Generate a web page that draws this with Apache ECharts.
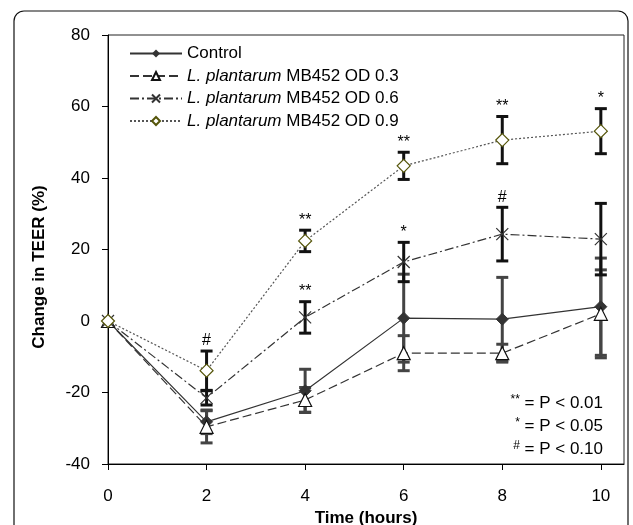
<!DOCTYPE html>
<html>
<head>
<meta charset="UTF-8">
<title>Change in TEER</title>
<script src="https://cdn.jsdelivr.net/npm/echarts@6/dist/echarts.min.js"></script>
<style>
  html, body { margin: 0; padding: 0; background: #fff; }
  #main { width: 633px; height: 525px; }
</style>
</head>
<body>
<div id="main"></div>
<script>
// data
var hours = [0, 2, 4, 6, 8, 10];
var xTicks = [0, 2, 4, 6, 8, 10];

var control    = [0, -28.2, -19.5, 0.8, 0.5, 4.0];
var controlErr = [0, 3.3, 6.0, 12.3, 11.7, 13.6];

var od03    = [0, -29.6, -22.1, -9.0, -9.0, 2.0];
var od03Err = [0, 4.5, 3.5, 4.9, 2.5, 12.3];

var od06    = [0, -21.5, 1.0, 16.5, 24.3, 22.9];
var od06Err = [0, 2.0, 4.4, 5.5, 7.5, 10.0];
var od06Sig = ['', '', '**', '*', '#', ''];

var od09    = [0, -13.9, 22.4, 43.4, 50.6, 53.1];
var od09Err = [0, 5.5, 3.0, 3.8, 6.6, 6.3];
var od09Sig = ['', '#', '**', '**', '**', '*'];

var names = ['Control', 'L. plantarum MB452 OD 0.3', 'L. plantarum MB452 OD 0.6', 'L. plantarum MB452 OD 0.9'];
var pNotes = [['**', 'P < 0.01'], ['*', 'P < 0.05'], ['#', 'P < 0.10']];

var FONT = '"Liberation Sans", Arial, sans-serif';

function pairs(ys) {
  return hours.map(function (h, i) { return [h, ys[i]]; });
}
function bars(ys, errs) {
  return hours.map(function (h, i) { return [h, ys[i] - errs[i], ys[i] + errs[i]]; });
}

// error bar + significance mark, positioned through the axes
function errorRender(color, sig) {
  return function (params, api) {
    var x = api.value(0), lo = api.value(1), hi = api.value(2);
    if (hi === lo) return null;
    var top = api.coord([x, hi]);
    var bot = api.coord([x, lo]);
    var w = 6;
    var st = { stroke: color, lineWidth: 3 };
    var kids = [
      { type: 'line', shape: { x1: top[0], y1: top[1], x2: bot[0], y2: bot[1] }, style: st },
      { type: 'line', shape: { x1: top[0] - w, y1: top[1], x2: top[0] + w, y2: top[1] }, style: st },
      { type: 'line', shape: { x1: bot[0] - w, y1: bot[1], x2: bot[0] + w, y2: bot[1] }, style: st }
    ];
    var s = sig ? sig[params.dataIndex] : '';
    if (s) {
      kids.push({
        type: 'text', x: top[0], y: top[1] - 2,
        style: { text: s, textAlign: 'center', textVerticalAlign: 'bottom',
                 font: '16px ' + FONT, fill: '#000' }
      });
    }
    return { type: 'group', children: kids };
  };
}

var chart = echarts.init(document.getElementById('main'));

var crossPath = 'path://M0,0L10,10M10,0L0,10';

chart.setOption({
  animation: false,
  backgroundColor: '#fff',
  textStyle: { fontFamily: FONT },
  grid: { left: 108, right: 9, top: 35, bottom: 61, show: true, borderColor: '#222', borderWidth: 1,
          containLabel: false, outerBoundsMode: 'none' },
  legend: {
    data: names,
    orient: 'vertical',
    left: 124,
    top: 40,
    itemWidth: 52,
    itemHeight: 10,
    itemGap: 5.5,
    textStyle: {
      fontSize: 17, color: '#000', fontFamily: FONT,
      rich: { i: { fontStyle: 'italic', fontSize: 17, color: '#000', fontFamily: FONT } }
    },
    formatter: function (n) { return n.replace('L. plantarum', '{i|L. plantarum}'); }
  },
  xAxis: {
    type: 'value',
    min: 0,
    max: 10.47,
    name: 'Time (hours)',
    nameLocation: 'middle',
    nameGap: 46,
    nameTextStyle: { fontSize: 17, fontWeight: 'bold', color: '#000' },
    axisLine: { onZero: false, lineStyle: { color: '#000', width: 1 } },
    axisTick: { length: 6, customValues: xTicks, lineStyle: { color: '#000' } },
    axisLabel: { customValues: xTicks, fontSize: 17, color: '#000', margin: 24 },
    splitLine: { show: false }
  },
  yAxis: {
    type: 'value',
    min: -40,
    max: 80,
    interval: 20,
    axisLine: { show: true, onZero: false, lineStyle: { color: '#000', width: 1 } },
    axisTick: { show: true, length: 6, lineStyle: { color: '#000' } },
    axisLabel: { fontSize: 17, color: '#000', margin: 18 },
    splitLine: { show: false }
  },
  graphic: [
    { type: 'rect', shape: { x: 14, y: 11, width: 614, height: 530, r: 10 },
      style: { fill: 'none', stroke: '#111', lineWidth: 1.2 }, silent: true, z: 100 },
    { type: 'text', x: 39, y: 267, rotation: Math.PI / 2,
      style: { text: 'Change in TEER (%)', textAlign: 'center', textVerticalAlign: 'middle',
               font: 'bold 17px ' + FONT, fill: '#000' } },
    { type: 'group', right: 30, top: 394, children: pNotes.map(function (p, i) {
      return {
        type: 'text', x: 0, y: i * 23,
        style: {
          text: '{s|' + p[0] + '}{m| = ' + p[1] + '}',
          textAlign: 'right',
          rich: {
            s: { fontSize: 12, fontFamily: FONT, fill: '#000', padding: [0, 0, 7, 0] },
            m: { fontSize: 17, fontFamily: FONT, fill: '#000' }
          }
        }
      };
    }) }
  ],
  series: [
    {
      name: names[0], type: 'line', data: pairs(control), z: 4,
      symbol: 'diamond', symbolSize: 12,
      itemStyle: { color: '#333', borderColor: '#333' },
      lineStyle: { color: '#333', width: 1.2, type: 'solid' }
    },
    {
      name: names[1], type: 'line', data: pairs(od03), z: 4,
      symbol: 'triangle', symbolSize: 13,
      itemStyle: { color: '#fff', borderColor: '#111', borderWidth: 1.2 },
      lineStyle: { color: '#333', width: 1.2, type: [9, 4] }
    },
    {
      name: names[2], type: 'line', data: pairs(od06), z: 4,
      symbol: crossPath, symbolSize: 12,
      itemStyle: { color: 'transparent', borderColor: '#333', borderWidth: 1.2 },
      lineStyle: { color: '#333', width: 1.2, type: [9, 3, 2, 3] }
    },
    {
      name: names[3], type: 'line', data: pairs(od09), z: 5,
      symbol: 'diamond', symbolSize: 13,
      itemStyle: { color: '#fff', borderColor: '#55550a', borderWidth: 1.2 },
      lineStyle: { color: '#555', width: 1.2, type: [2, 2] }
    },
    { type: 'custom', data: bars(control, controlErr), renderItem: errorRender('#444', null), z: 3, silent: true },
    { type: 'custom', data: bars(od03, od03Err), renderItem: errorRender('#444', null), z: 3, silent: true },
    { type: 'custom', data: bars(od06, od06Err), renderItem: errorRender('#111', od06Sig), z: 3, silent: true },
    { type: 'custom', data: bars(od09, od09Err), renderItem: errorRender('#111', od09Sig), z: 3, silent: true }
  ]
});
</script>
</body>
</html>
